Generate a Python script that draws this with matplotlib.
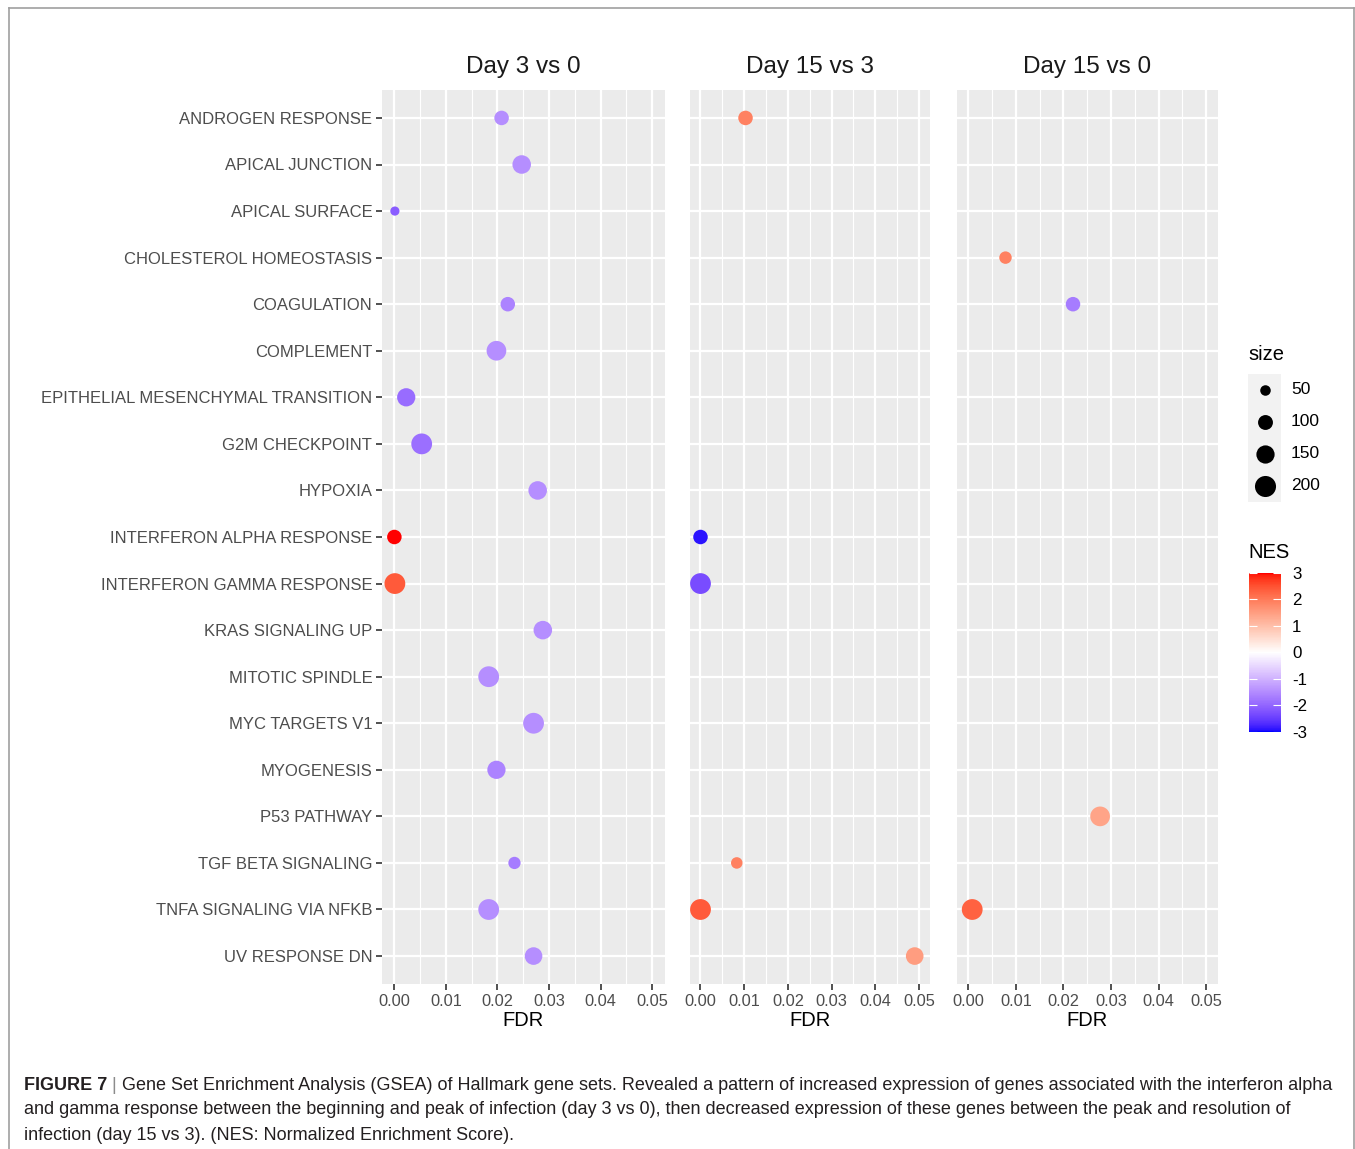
import numpy as np
import matplotlib
matplotlib.use("Agg")
from matplotlib import pyplot as plt
from matplotlib.colors import ListedColormap, Normalize
from matplotlib.cm import ScalarMappable
from matplotlib.lines import Line2D

plt.rcParams['font.family'] = ['Liberation Sans', 'DejaVu Sans']

categories = [
    "ANDROGEN RESPONSE", "APICAL JUNCTION", "APICAL SURFACE",
    "CHOLESTEROL HOMEOSTASIS", "COAGULATION", "COMPLEMENT",
    "EPITHELIAL MESENCHYMAL TRANSITION", "G2M CHECKPOINT", "HYPOXIA",
    "INTERFERON ALPHA RESPONSE", "INTERFERON GAMMA RESPONSE",
    "KRAS SIGNALING UP", "MITOTIC SPINDLE", "MYC TARGETS V1", "MYOGENESIS",
    "P53 PATHWAY", "TGF BETA SIGNALING", "TNFA SIGNALING VIA NFKB",
    "UV RESPONSE DN",
]
panel_titles = ["Day 3 vs 0", "Day 15 vs 3", "Day 15 vs 0"]

# Day 3 vs 0
d30_terms = ["ANDROGEN RESPONSE", "APICAL JUNCTION", "APICAL SURFACE", "COAGULATION",
             "COMPLEMENT", "EPITHELIAL MESENCHYMAL TRANSITION", "G2M CHECKPOINT",
             "HYPOXIA", "INTERFERON ALPHA RESPONSE", "INTERFERON GAMMA RESPONSE",
             "KRAS SIGNALING UP", "MITOTIC SPINDLE", "MYC TARGETS V1", "MYOGENESIS",
             "TGF BETA SIGNALING", "TNFA SIGNALING VIA NFKB", "UV RESPONSE DN"]
d30_fdr = [0.0208, 0.0247, 0.0001, 0.0220, 0.0198, 0.0023, 0.0053, 0.0278, 0.0000,
           0.0001, 0.0288, 0.0183, 0.0270, 0.0198, 0.0233, 0.0183, 0.0270]
d30_nes = [-1.45, -1.45, -2.1, -1.6, -1.45, -1.9, -1.85, -1.45, 3.0,
           2.4, -1.45, -1.45, -1.45, -1.6, -1.7, -1.45, -1.45]
d30_size = [95, 155, 38, 95, 175, 150, 195, 155, 95,
            195, 155, 195, 195, 150, 68, 195, 140]

# Day 15 vs 3
d153_terms = ["ANDROGEN RESPONSE", "INTERFERON ALPHA RESPONSE", "INTERFERON GAMMA RESPONSE",
              "TGF BETA SIGNALING", "TNFA SIGNALING VIA NFKB", "UV RESPONSE DN"]
d153_fdr = [0.0103, 0.0000, 0.0000, 0.0083, 0.0000, 0.0490]
d153_nes = [1.9, -2.9, -2.3, 1.9, 2.4, 1.5]
d153_size = [95, 95, 195, 60, 195, 140]

# Day 15 vs 0
d150_terms = ["CHOLESTEROL HOMEOSTASIS", "COAGULATION", "P53 PATHWAY",
              "TNFA SIGNALING VIA NFKB"]
d150_fdr = [0.0078, 0.0220, 0.0277, 0.0008]
d150_nes = [1.9, -1.7, 1.4, 2.3]
d150_size = [70, 95, 175, 195]

size_breaks = [50, 100, 150, 200]
nes_breaks = [3, 2, 1, 0, -1, -2, -3]
fdr_ticks = [0.00, 0.01, 0.02, 0.03, 0.04, 0.05]

SIZE_SCALE = 1.15


def lab_to_rgb(L, a, b):
    fy = (L + 16) / 116
    fx = fy + a / 500
    fz = fy - b / 200

    def finv(t):
        return np.where(t ** 3 > 0.008856, t ** 3, (t - 16 / 116) / 7.787)

    X = 0.95047 * finv(fx)
    Y = finv(fy)
    Z = 1.08883 * finv(fz)
    r = 3.2406 * X - 1.5372 * Y - 0.4986 * Z
    g = -0.9689 * X + 1.8758 * Y + 0.0415 * Z
    bb = 0.0557 * X - 0.2040 * Y + 1.0570 * Z
    rgb = np.stack([r, g, bb], axis=-1)
    rgb = np.where(rgb > 0.0031308, 1.055 * np.clip(rgb, 0, None) ** (1 / 2.4) - 0.055, 12.92 * rgb)
    return np.clip(rgb, 0, 1)


# ggplot-like gradient2 (blue - white - red) interpolated in Lab
blue_lab = np.array([32.30, 79.19, -107.86])
white_lab = np.array([100.0, 0.0, 0.0])
red_lab = np.array([53.24, 80.09, 67.20])
t = np.linspace(0, 1, 128)[:, None]
low = blue_lab + (white_lab - blue_lab) * t
high = white_lab + (red_lab - white_lab) * t
lab = np.vstack([low, high[1:]])
cmap = ListedColormap(lab_to_rgb(lab[:, 0], lab[:, 1], lab[:, 2]))
norm = Normalize(-3, 3)

W, H = 1355, 1149
fig = plt.figure(figsize=(W / 100, H / 100), dpi=100)


def rect(x0, y0, x1, y1):
    return [x0 / W, 1 - y1 / H, (x1 - x0) / W, (y1 - y0) / H]


panels = [
    (382, 665, d30_terms, d30_fdr, d30_nes, d30_size),
    (690, 930, d153_terms, d153_fdr, d153_nes, d153_size),
    (957, 1218, d150_terms, d150_fdr, d150_nes, d150_size),
]
ypos = {c: i for i, c in enumerate(categories)}

for k, (x0, x1, tt, fdr, nes, size) in enumerate(panels):
    ax = fig.add_axes(rect(x0, 90, x1, 984))
    ax.set_facecolor("#EBEBEB")
    for s in ax.spines.values():
        s.set_visible(False)
    ax.set_xlim(-0.0024, 0.0525)
    ax.set_ylim(len(categories) - 0.4, -0.6)
    ax.set_xticks(fdr_ticks)
    ax.set_xticks(np.arange(0.005, 0.051, 0.01), minor=True)
    ax.set_xticklabels(["%.2f" % v for v in fdr_ticks])
    ax.set_yticks(range(len(categories)))
    ax.grid(True, which="major", color="white", linewidth=1.6)
    ax.grid(True, which="minor", axis="x", color="white", linewidth=0.8)
    ax.set_axisbelow(True)
    ax.tick_params(axis="x", which="major", length=4, width=1.2, color="#333333",
                   labelsize=11.8, labelcolor="#4D4D4D", pad=3)
    ax.tick_params(axis="x", which="minor", length=0)
    if k == 0:
        ax.set_yticklabels(categories)
        ax.tick_params(axis="y", length=4, width=1.2, color="#333333",
                       labelsize=12, labelcolor="#4D4D4D", pad=3)
    else:
        ax.set_yticklabels([])
        ax.tick_params(axis="y", length=0)
    ax.set_xlabel("FDR", fontsize=14.5, color="black", labelpad=2)
    ax.set_title(panel_titles[k], fontsize=17.5, color="#1A1A1A", pad=12)
    ys = [ypos[c] for c in tt]
    ax.scatter(fdr, ys, s=np.array(size) * SIZE_SCALE, c=nes, cmap=cmap, norm=norm,
               linewidths=0, zorder=3)

# size legend
fig.text(1248 / W, 1 - 354 / H, "size", fontsize=14.5, va="center", ha="left")
lax = fig.add_axes(rect(1248, 374, 1281, 502))
lax.set_facecolor("#F2F2F2")
for s in lax.spines.values():
    s.set_visible(False)
lax.set_xticks([])
lax.set_yticks([])
lax.set_xlim(0, 1)
lax.set_ylim(4, 0)
for i, v in enumerate(size_breaks):
    lax.scatter(0.5, i + 0.5, s=v * SIZE_SCALE, color="black", linewidths=0)
    lax.text(1.3, i + 0.5, str(v), fontsize=12.5, va="center", ha="left",
             transform=lax.transData, clip_on=False)

# NES colorbar
fig.text(1248 / W, 1 - 553 / H, "NES", fontsize=14.5, va="center", ha="left")
cax = fig.add_axes(rect(1249, 573, 1281, 732))
cb = fig.colorbar(ScalarMappable(norm=norm, cmap=cmap), cax=cax)
cb.outline.set_visible(False)
cb.set_ticks(nes_breaks)
cb.set_ticklabels([str(v) for v in nes_breaks])
cax.yaxis.set_ticks_position("both")
cax.tick_params(which="both", direction="in", color="white", length=6, width=0.8,
                labelleft=False, labelright=True, labelsize=12.2, pad=8)

# border
for xs, ys_ in [([9, 9], [8, H]), ([9, 1354], [8, 8]), ([1354, 1354], [8, H])]:
    fig.add_artist(Line2D(np.array(xs) / W, 1 - np.array(ys_) / H,
                          color="#A0A0A0", linewidth=1.2))

# caption
cap_color = "#231F20"
head = fig.text(24 / W, 1 - 1085 / H, "FIGURE 7", fontsize=13, fontweight="bold",
                color=cap_color, va="center", ha="left")
fig.canvas.draw()
rend = fig.canvas.get_renderer()
bb = head.get_window_extent(rend)
bar = fig.text(bb.x1 / W, 1 - 1085 / H, " | ", fontsize=13, color="#8C8C8C",
               va="center", ha="left")
bb2 = bar.get_window_extent(rend)
fig.text(bb2.x1 / W, 1 - 1085 / H,
         "Gene Set Enrichment Analysis (GSEA) of Hallmark gene sets. Revealed a pattern of "
         "increased expression of genes associated with the interferon alpha",
         fontsize=13, color=cap_color, va="center", ha="left")
fig.text(24 / W, 1 - 1110 / H,
         "and gamma response between the beginning and peak of infection (day 3 vs 0), then "
         "decreased expression of these genes between the peak and resolution of",
         fontsize=13, color=cap_color, va="center", ha="left")
fig.text(24 / W, 1 - 1135 / H,
         "infection (day 15 vs 3). (NES: Normalized Enrichment Score).",
         fontsize=13, color=cap_color, va="center", ha="left")

fig.savefig("out.png", dpi=100)
